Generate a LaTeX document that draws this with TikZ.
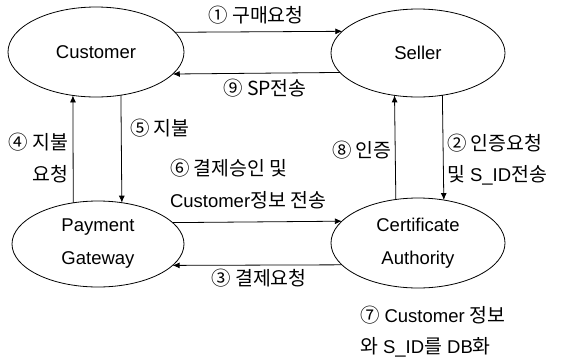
\documentclass[tikz,border=0pt]{standalone}
\usepackage{fontspec}
\setmainfont{Liberation Sans}
\newfontfamily\kr[Scale=1.05]{Noto Sans CJK KR}
\usetikzlibrary{arrows.meta,shapes.geometric}
\begin{document}
\begin{tikzpicture}[x=1pt,y=-1pt,
  ent/.style={draw, ellipse, inner sep=0pt, outer sep=0pt, line width=0.8pt,
    align=center, font=\fontsize{18.5}{33}\selectfont},
  lbl/.style={inner sep=0pt, outer sep=0pt, font=\fontsize{18.5}{22}\selectfont},
  arr/.style={-{Latex[length=7pt,width=6pt]}, line width=0.8pt}]
\useasboundingbox (0,0) rectangle (566,357);
% entities
\node[ent, minimum width=176pt, minimum height=90pt] (cust) at (96,52) {Customer};
\node[ent, minimum width=174pt, minimum height=88pt] (sell) at (418,53) {Seller};
\node[ent, minimum width=172pt, minimum height=86pt] (pg) at (98,244) {Payment\\Gateway};
\node[ent, minimum width=174pt, minimum height=90pt] (ca) at (418,243) {Certificate\\Authority};
% connectors
\draw[arr] (cust.14.24) -- (sell.164.64);
\draw[arr] (sell.194.47) -- (cust.344.9);
\draw[arr] (pg.121.3) -- (cust.242.1);
\draw[arr] (cust.300.1) -- (pg.60.95);
\draw[arr] (pg.16.58) -- (ca.164.73);
\draw[arr] (ca.196.16) -- (pg.344.36);
\draw[arr] (ca.117.92) -- (sell.241.52);
\draw[arr] (sell.300.7) -- (ca.59.89);
% labels
\node[lbl] (l1) at (256,15) {\kr ① 구매요청};
\node[lbl] (l9) at (265,88) {\kr ⑨ SP전송};
\node[lbl, anchor=east] (l4a) at (68,142) {\kr ④ 지불};
\node[lbl, anchor=east] (l4b) at (68,174) {\kr 요청};
\node[lbl, anchor=west] (l5) at (130,128) {\kr ⑤ 지불};
\node[lbl, anchor=west] (l6a) at (170,168) {\kr ⑥ 결제승인 및};
\node[lbl, anchor=west] (l6b) at (170,200) {Customer{\kr 정보 전송}};
\node[lbl] (l3) at (259,278) {\kr ③ 결제요청};
\node[lbl, anchor=west] (l8) at (332,150) {\kr ⑧ 인증};
\node[lbl, anchor=west] (l2a) at (447,143) {\kr ② 인증요청};
\node[lbl, anchor=west] (l2b) at (447,175) {{\kr 및} S\_ID{\kr 전송}};
\node[lbl, anchor=west] (l7a) at (360,315) {{\kr ⑦} Customer {\kr 정보}};
\node[lbl, anchor=west] (l7b) at (360,347) {{\kr 와} S\_ID{\kr 를} DB{\kr 화}};
\end{tikzpicture}
\end{document}
